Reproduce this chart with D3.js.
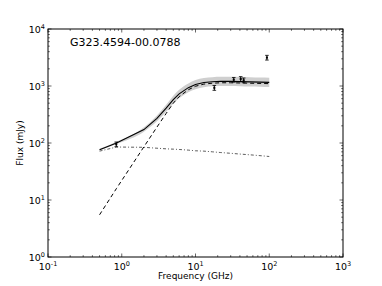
<!DOCTYPE html>
<html lang='en'>
    <head>
        <meta charset='UTF-8'>
        <title>SED fit</title>
        <script src="https://d3js.org/d3.v7.min.js"></script>
        <style>
            body { margin: 0; background: white; }
            text { font-family: 'DejaVu Sans', sans-serif; fill: black; }
        </style>
    </head>
    <body>
        <svg id='chart' width='382' height='286'></svg>
        <script>
            // model sampling frequencies (GHz)
            let model_freq = [0.5, 0.85, 2, 3, 4, 5, 6, 8, 10, 13, 17, 22, 30, 40, 55, 75, 100]
            // total model (solid)
            let model_total = [76, 100, 172, 271, 409, 578, 727, 935, 1063, 1152, 1190, 1208, 1206, 1194, 1182, 1170, 1158]
            // uncertainty band
            let band_low = [74, 96, 158, 240, 355, 490, 610, 780, 880, 950, 985, 1000, 1000, 990, 980, 970, 960]
            let band_high = [79, 105, 188, 305, 470, 675, 860, 1110, 1270, 1380, 1430, 1450, 1450, 1440, 1425, 1410, 1400]
            // compact component (dashed)
            let model_thick = [5.5, 16, 86, 190, 330, 500, 650, 860, 990, 1080, 1120, 1140, 1140, 1130, 1120, 1110, 1100]
            // extended component (dash-dot)
            let model_thin = [72, 85, 84, 81, 79, 78, 77, 75, 73, 72, 70, 68, 66, 64, 62, 60, 58]

            // measurements
            let obs_freq = [0.843, 18, 33, 41, 45, 93]
            let obs_flux = [95, 930, 1290, 1330, 1260, 3150]
            let obs_err = [9, 90, 120, 130, 120, 300]

            let x_ticks = [0.1, 1, 10, 100, 1000]
            let x_exp = ['-1', '0', '1', '2', '3']
            let y_ticks = [1, 10, 100, 1000, 10000]
            let y_exp = ['0', '1', '2', '3', '4']

            let title = 'G323.4594-00.0788'

            const pl = 48, pr = 343, pt = 29, pb = 257
            let svg = d3.select('#chart')

            let x = d3.scaleLog().domain([0.1, 1000]).range([pl, pr])
            let y = d3.scaleLog().domain([1, 10000]).range([pb, pt])

            let idx = d3.range(model_freq.length)

            // band
            svg.append('path')
                .attr('d', d3.area()
                    .x(i => x(model_freq[i]))
                    .y0(i => y(band_low[i]))
                    .y1(i => y(band_high[i]))
                    .curve(d3.curveMonotoneX)(idx))
                .attr('fill', '#cfcfcf')

            function drawLine(vals, dash, width, color) {
                svg.append('path')
                    .attr('d', d3.line()
                        .x(i => x(model_freq[i]))
                        .y(i => y(vals[i]))(idx))
                    .attr('fill', 'none')
                    .attr('stroke', color)
                    .attr('stroke-width', width)
                    .attr('stroke-dasharray', dash)
            }
            drawLine(model_thin, '3,2,1,2', 0.8, '#333')
            drawLine(model_thick, '4,3', 1, 'black')
            drawLine(model_total, null, 1.1, 'black')

            // error bars
            let pts = svg.append('g')
            obs_freq.forEach((f, i) => {
                let cx = x(f)
                let y0 = y(obs_flux[i] - obs_err[i]), y1 = y(obs_flux[i] + obs_err[i])
                pts.append('line').attr('x1', cx).attr('x2', cx).attr('y1', y0).attr('y2', y1)
                    .attr('stroke', 'black').attr('stroke-width', 1)
                ;[y0, y1].forEach(yy => pts.append('line')
                    .attr('x1', cx - 1.8).attr('x2', cx + 1.8).attr('y1', yy).attr('y2', yy)
                    .attr('stroke', 'black').attr('stroke-width', 0.8))
                pts.append('rect').attr('x', cx - 1).attr('y', y(obs_flux[i]) - 1)
                    .attr('width', 2).attr('height', 2).attr('fill', 'black')
            })

            // frame
            svg.append('rect')
                .attr('x', pl).attr('y', pt)
                .attr('width', pr - pl).attr('height', pb - pt)
                .attr('fill', 'none').attr('stroke', 'black').attr('stroke-width', 1)

            // ticks, inward on all four sides
            let ticks = svg.append('g').attr('stroke', 'black').attr('stroke-width', 0.6)
            function minorList(lo, hi) {
                let out = []
                for (let d = lo; d < hi; d *= 10)
                    for (let k = 2; k <= 9; k++) out.push(d * k)
                return out
            }
            x_ticks.forEach(t => {
                ticks.append('line').attr('x1', x(t)).attr('x2', x(t)).attr('y1', pb).attr('y2', pb - 3.5)
                ticks.append('line').attr('x1', x(t)).attr('x2', x(t)).attr('y1', pt).attr('y2', pt + 3.5)
            })
            minorList(0.1, 1000).forEach(t => {
                ticks.append('line').attr('x1', x(t)).attr('x2', x(t)).attr('y1', pb).attr('y2', pb - 1.8)
                ticks.append('line').attr('x1', x(t)).attr('x2', x(t)).attr('y1', pt).attr('y2', pt + 1.8)
            })
            y_ticks.forEach(t => {
                ticks.append('line').attr('y1', y(t)).attr('y2', y(t)).attr('x1', pl).attr('x2', pl + 3.5)
                ticks.append('line').attr('y1', y(t)).attr('y2', y(t)).attr('x1', pr).attr('x2', pr - 3.5)
            })
            minorList(1, 10000).forEach(t => {
                ticks.append('line').attr('y1', y(t)).attr('y2', y(t)).attr('x1', pl).attr('x2', pl + 1.8)
                ticks.append('line').attr('y1', y(t)).attr('y2', y(t)).attr('x1', pr).attr('x2', pr - 1.8)
            })

            // tick labels
            x_ticks.forEach((t, i) => {
                let tx = svg.append('text')
                    .attr('x', x(t)).attr('y', pb + 13)
                    .attr('text-anchor', 'middle')
                    .style('font-size', '9.5px')
                tx.append('tspan').text('10')
                tx.append('tspan').attr('dy', -4).style('font-size', '6.5px').text(x_exp[i])
            })
            y_ticks.forEach((t, i) => {
                let ty = svg.append('text')
                    .attr('x', pl - 3).attr('y', y(t) + 4)
                    .attr('text-anchor', 'end')
                    .style('font-size', '9.5px')
                ty.append('tspan').text('10')
                ty.append('tspan').attr('dy', -4).style('font-size', '6.5px').text(y_exp[i])
            })

            // axis labels and title
            svg.append('text')
                .attr('x', (pl + pr) / 2).attr('y', 279)
                .attr('text-anchor', 'middle')
                .style('font-size', '9px')
                .text('Frequency (GHz)')
            svg.append('text')
                .attr('transform', `translate(23, ${(pt + pb) / 2}) rotate(-90)`)
                .attr('text-anchor', 'middle')
                .style('font-size', '9px')
                .text('Flux (mJy)')
            svg.append('text')
                .attr('x', 70).attr('y', 46)
                .style('font-size', '11px')
                .text(title)
        </script>
    </body>
</html>
